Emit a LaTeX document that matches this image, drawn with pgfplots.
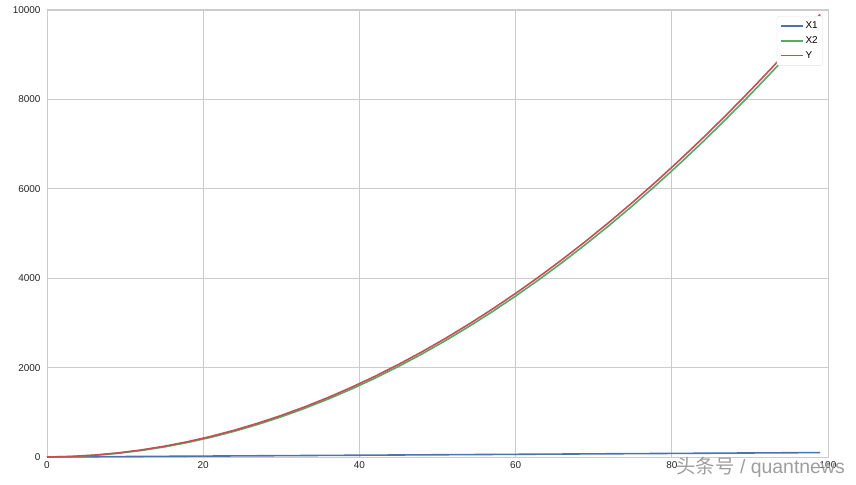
\documentclass[border=0pt]{standalone}
\usepackage{fontspec}
\setmainfont{Liberation Sans}
\newfontfamily\cjk{Noto Sans CJK SC}
\usepackage{pgfplots}
\usepackage{pgfplotstable}
\pgfplotsset{compat=1.18}
\definecolor{sbblue}{HTML}{4C72B0}
\definecolor{sbgreen}{HTML}{55A868}
\definecolor{sbred}{HTML}{C44E52}
\definecolor{gridc}{HTML}{CCCCCC}
\pgfplotstableread{
x X1 X2 Y
0 0 0 0
3 3 9 12
6 6 36 42
9 9 81 90
12 12 144 156
15 15 225 240
18 18 324 342
21 21 441 462
24 24 576 600
27 27 729 756
30 30 900 930
33 33 1089 1122
36 36 1296 1332
39 39 1521 1560
42 42 1764 1806
45 45 2025 2070
48 48 2304 2352
51 51 2601 2652
54 54 2916 2970
57 57 3249 3306
60 60 3600 3660
63 63 3969 4032
66 66 4356 4422
69 69 4761 4830
72 72 5184 5256
75 75 5625 5700
78 78 6084 6162
81 81 6561 6642
84 84 7056 7140
87 87 7569 7656
90 90 8100 8190
93 93 8649 8742
96 96 9216 9312
99 99 9801 9900
}\data
\begin{document}
\begin{tikzpicture}
\useasboundingbox (-47bp,-28bp) rectangle (809bp,457bp);
\begin{axis}[
  scale only axis,
  width=781bp, height=447bp,
  xmin=0, xmax=100, ymin=0, ymax=10000,
  xtick={0,20,40,60,80,100},
  ytick={0,2000,4000,6000,8000,10000},
  scaled y ticks=false,
  /pgf/number format/assume math mode=true,
  /pgf/number format/1000 sep={},
  tick label style={font=\fontsize{10}{12}\selectfont, text=black!85},
  xticklabel style={yshift=-1bp},
  yticklabel style={xshift=-3bp},
  major tick length=0pt,
  grid=major,
  major grid style={gridc, line width=0.8bp},
  axis line style={gridc, line width=1bp},
  legend cell align=left,
  legend style={at={(0.9935,0.9865)}, anchor=north east, draw=gridc!60, fill=white, rounded corners=2bp,
    font=\fontsize{10}{12}\selectfont, row sep=2.5bp, inner xsep=3bp, inner ysep=3.5bp},
  legend image code/.code={\draw[#1, line width=1.6bp] (0bp,0bp) -- (22bp,0bp);},
  clip=false,
]
\addplot[sbblue, line width=1.6bp, no markers] table[x=x, y=X1] {\data};
\addplot[sbgreen, line width=1.6bp, no markers] table[x=x, y=X2] {\data};
\addplot[sbred, line width=1.6bp, no markers] table[x=x, y=Y] {\data};
\legend{X1, X2, Y}
\node[anchor=east, text=black!38, font=\fontsize{19.5}{22}\selectfont, inner sep=0pt] at ([xshift=17bp,yshift=-10bp]rel axis cs:1,0) {{\cjk 头条号} / quantnews};
\end{axis}
\end{tikzpicture}
\end{document}
